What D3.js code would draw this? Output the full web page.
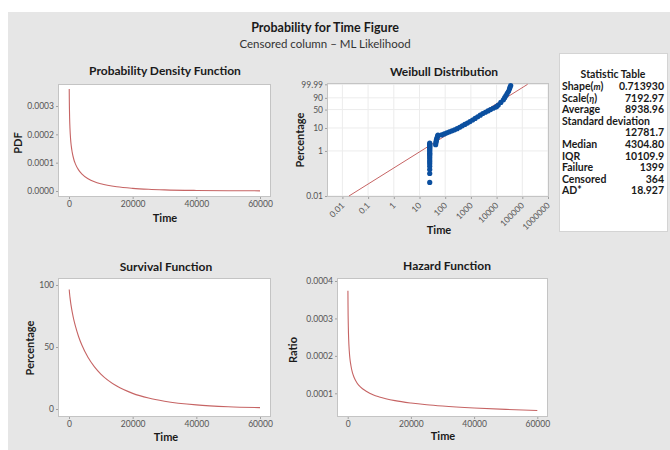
<!DOCTYPE html>
<html>
<head>
<meta charset="utf-8">
<script src="https://cdn.jsdelivr.net/npm/d3@7"></script>
<style>
  body { margin: 0; background: #ffffff; }
  svg text { font-family: "Lato", "Open Sans", sans-serif; }
</style>
</head>
<body>
<div id="chart"></div>
<script>
var svgWidth = 670;
var svgHeight = 450;

var curveTimes = [70, 100, 200, 300, 500, 700, 1000, 1500, 2000, 3000, 4000, 6000,
  8000, 10000, 15000, 20000, 25000, 30000, 40000, 50000, 60000];
var pdfValues = [0.000360, 0.000322, 0.000256, 0.000222, 0.000183, 0.000160, 0.000137,
  0.000112, 0.0000959, 0.0000746, 0.0000608, 0.0000434, 0.0000327, 0.0000255,
  0.0000148, 0.0000093, 0.0000061, 0.0000041, 0.0000020, 0.0000010, 0.0000006];
var survivalPct = [96.4, 95.4, 92.5, 90.2, 86.2, 82.7, 78.3, 72.1, 67.0, 58.5, 51.8,
  41.5, 34.0, 28.2, 18.5, 12.6, 8.8, 6.3, 3.3, 1.8, 1.1];
var hazardValues = [0.000374, 0.000337, 0.000277, 0.000246, 0.000213, 0.000193,
  0.000175, 0.000155, 0.000143, 0.000127, 0.000117, 0.000105, 0.0000963, 0.0000903,
  0.0000804, 0.0000741, 0.0000695, 0.0000660, 0.0000608, 0.0000570, 0.0000541];

// Weibull probability plot points (time, cumulative percentage)
var weibullTimes = [25, 25, 25, 25, 25, 25, 25, 25, 25, 25, 25, 25, 25, 25, 25, 25, 25,
  25, 25, 25,
  42.5, 43.5, 44.5, 45.8, 47.4, 49.0, 50.7, 52.3,
  73.1, 92.0, 115.9, 145.9, 183.7, 231.2, 291.1, 366.4, 461.3, 580.8, 731.1, 920.4,
  1159, 1459, 1837, 2312, 2911, 3664, 4613, 5808, 7311, 9204, 10093, 11588, 14588,
  18365, 20606, 23121, 25942, 29107, 31915, 33420, 35400];
var weibullPct = [0.04, 0.1, 0.15, 0.21, 0.27, 0.33, 0.4, 0.5, 0.6, 0.7, 0.8, 0.95, 1.1,
  1.25, 1.4, 1.55, 1.7, 1.85, 2.0, 2.2,
  1.9, 2.3, 2.7, 3.1, 3.5, 4.0, 4.5, 4.9,
  5.05, 5.59, 6.19, 6.86, 7.59, 8.40, 9.34, 10.72, 12.29, 14.06, 16.05, 18.31,
  21.21, 24.53, 28.27, 32.47, 37.09, 40.98, 45.31, 49.88, 54.82, 59.25, 61.01, 66.88,
  76.39, 84.82, 90.36, 94.58, 97.31, 98.87, 99.70, 99.905, 99.969];
var fitTimes = [0.018, 161000];
var fitPct = [0.01, 99.99];

var timeTicks = [0, 20000, 40000, 60000];
var pdfTicks = [0, 0.0001, 0.0002, 0.0003];
var survivalTicks = [0, 50, 100];
var hazardTicks = [0.0001, 0.0002, 0.0003, 0.0004];
var weibullPctTicks = [0.01, 1, 10, 50, 90, 99.99];
var weibullTimeTicks = [0.01, 0.1, 1, 10, 100, 1000, 10000, 100000, 1000000];

var statLabels = ["Shape(m)", "Scale(η)", "Average", "Standard deviation", "",
  "Median", "IQR", "Failure", "Censored", "AD*"];
var statValues = ["0.713930", "7192.97", "8938.96", "", "12781.7",
  "4304.80", "10109.9", "1399", "364", "18.927"];

var curveColor = "#c66464";
var dotColor = "#0b4f9f";

var svg = d3.select("#chart")
  .append("svg")
  .attr("width", svgWidth)
  .attr("height", svgHeight);

svg.append("rect")
  .attr("x", 8).attr("y", 12)
  .attr("width", svgWidth - 8).attr("height", svgHeight - 12)
  .attr("fill", "#e6e6e6");

svg.append("text")
  .attr("x", 325).attr("y", 32)
  .attr("text-anchor", "middle")
  .attr("font-size", 12.5).attr("font-weight", "bold").attr("fill", "#1a1a1a")
  .text("Probability for Time Figure");

svg.append("text")
  .attr("x", 325).attr("y", 48)
  .attr("text-anchor", "middle")
  .attr("font-size", 11.5).attr("fill", "#333")
  .text("Censored column – ML Likelihood");

// draws the frame, axes and labels of one panel, returns its group
function drawPanel(p) {
  var g = svg.append("g");

  g.append("rect")
    .attr("x", p.box[0]).attr("y", p.box[1])
    .attr("width", p.box[2] - p.box[0]).attr("height", p.box[3] - p.box[1])
    .attr("fill", "#fff");
  if (p.grid) p.grid(g);

  var xAxis = g.append("g")
    .attr("transform", `translate(0, ${p.box[3]})`)
    .call(d3.axisBottom(p.x).tickValues(p.xTicks).tickSize(2).tickPadding(2)
      .tickFormat(p.xFormat || d3.format("d")));

  var yAxis = g.append("g")
    .attr("transform", `translate(${p.box[0]}, 0)`)
    .call(d3.axisLeft(p.y).tickValues(p.yTicks).tickSize(2).tickPadding(2)
      .tickFormat(p.yFormat));

  [xAxis, yAxis].forEach(function(a) {
    a.select(".domain").remove();
    a.selectAll("line").attr("stroke", "#a0a0a0");
    a.selectAll("text").attr("font-size", 8.5).attr("fill", "#555");
  });

  if (p.rotateX) {
    xAxis.selectAll("text")
      .attr("text-anchor", "end")
      .attr("dy", null)
      .attr("y", 0)
      .attr("transform", "translate(2, 9) rotate(-45)");
  }

  g.append("rect")
    .attr("x", p.box[0] + 0.5).attr("y", p.box[1] + 0.5)
    .attr("width", p.box[2] - p.box[0] - 1).attr("height", p.box[3] - p.box[1] - 1)
    .attr("fill", "none").attr("stroke", "#c4c4c4");

  g.append("text")
    .attr("x", p.title[1]).attr("y", p.title[2])
    .attr("text-anchor", "middle")
    .attr("font-size", 12).attr("font-weight", "bold").attr("fill", "#1a1a1a")
    .text(p.title[0]);

  g.append("text")
    .attr("x", p.xLabel[0]).attr("y", p.xLabel[1])
    .attr("text-anchor", "middle")
    .attr("font-size", 11).attr("font-weight", "bold").attr("fill", "#1a1a1a")
    .text("Time");

  g.append("text")
    .attr("transform", `translate(${p.yLabel[1]}, ${p.yLabel[2]}) rotate(-90)`)
    .attr("text-anchor", "middle")
    .attr("font-size", 11).attr("font-weight", "bold").attr("fill", "#1a1a1a")
    .text(p.yLabel[0]);

  return g;
}

function drawCurve(g, x, y, values) {
  var line = d3.line()
    .x((d, i) => x(curveTimes[i]))
    .y(d => y(d))
    .curve(d3.curveMonotoneX);
  g.append("path")
    .datum(values)
    .attr("d", line)
    .attr("fill", "none")
    .attr("stroke", curveColor)
    .attr("stroke-width", 1.1);
}

// ---- Probability Density Function
var pdfX = d3.scaleLinear().domain([0, 60000]).range([69, 260]);
var pdfY = d3.scaleLinear().domain([0, 0.0003]).range([191, 106]);
var pdfGroup = drawPanel({
  box: [58, 84, 271, 197], x: pdfX, y: pdfY,
  xTicks: timeTicks, yTicks: pdfTicks, yFormat: d3.format(".4f"),
  title: ["Probability Density Function", 165, 75],
  xLabel: [165, 222], yLabel: ["PDF", 22, 143]
});
drawCurve(pdfGroup, pdfX, pdfY, pdfValues);

// ---- Weibull Distribution (probability plot)
function weibullTransform(pct) {
  return Math.log(-Math.log(1 - pct / 100));
}
var wbX = d3.scaleLog().domain([0.01, 1000000]).range([342.4, 548]);
var wbYLinear = d3.scaleLinear()
  .domain([weibullTransform(0.01), weibullTransform(99.99)])
  .range([196, 84.3]);
var wbY = function(pct) { return wbYLinear(weibullTransform(pct)); };
wbY.copy = function() { return wbY; };
wbY.range = function() { return [196, 84.3]; };
wbY.domain = function() { return [0.01, 99.99]; };

var wbGroup = drawPanel({
  box: [327, 83, 549, 197], x: wbX, y: wbY,
  xTicks: weibullTimeTicks, yTicks: weibullPctTicks,
  xFormat: d => String(d), yFormat: d => String(d), rotateX: true,
  title: ["Weibull Distribution", 444, 76],
  xLabel: [439, 234], yLabel: ["Percentage", 304, 140],
  grid: function(g) {
    g.selectAll(".vgrid")
      .data(weibullTimeTicks)
      .enter().append("line")
      .attr("x1", d => wbX(d)).attr("x2", d => wbX(d))
      .attr("y1", 83).attr("y2", 197)
      .attr("stroke", "#ececec");
    g.selectAll(".hgrid")
      .data(weibullPctTicks)
      .enter().append("line")
      .attr("x1", 327).attr("x2", 549)
      .attr("y1", d => wbY(d)).attr("y2", d => wbY(d))
      .attr("stroke", "#ececec");
  }
});

wbGroup.append("line")
  .attr("x1", wbX(fitTimes[0])).attr("y1", wbY(fitPct[0]))
  .attr("x2", wbX(fitTimes[1])).attr("y2", wbY(fitPct[1]))
  .attr("stroke", curveColor).attr("stroke-width", 1);

wbGroup.selectAll(".dot")
  .data(weibullTimes)
  .enter().append("circle")
  .attr("cx", d => wbX(d))
  .attr("cy", (d, i) => wbY(weibullPct[i]))
  .attr("r", 2.6)
  .attr("fill", dotColor);

// ---- Survival Function
var survX = d3.scaleLinear().domain([0, 60000]).range([69, 260]);
var survY = d3.scaleLinear().domain([0, 100]).range([409, 285]);
var survGroup = drawPanel({
  box: [58, 278, 271, 417], x: survX, y: survY,
  xTicks: timeTicks, yTicks: survivalTicks, yFormat: d3.format("d"),
  title: ["Survival Function", 166, 271],
  xLabel: [166, 441], yLabel: ["Percentage", 34, 348]
});
drawCurve(survGroup, survX, survY, survivalPct);

// ---- Hazard Function
var hazX = d3.scaleLinear().domain([0, 60000]).range([347.7, 537.3]);
var hazY = d3.scaleLinear().domain([0.0001, 0.0004]).range([393.3, 281]);
var hazGroup = drawPanel({
  box: [337, 278, 548, 417], x: hazX, y: hazY,
  xTicks: timeTicks, yTicks: hazardTicks, yFormat: d3.format(".4f"),
  title: ["Hazard Function", 447, 270],
  xLabel: [443, 440], yLabel: ["Ratio", 297, 350]
});
drawCurve(hazGroup, hazX, hazY, hazardValues);

// ---- Statistic Table
var table = svg.append("g");
table.append("rect")
  .attr("x", 559.5).attr("y", 53.5)
  .attr("width", 108).attr("height", 178)
  .attr("fill", "#fff").attr("stroke", "#d4d4d4");

table.append("text")
  .attr("x", 613).attr("y", 78)
  .attr("text-anchor", "middle")
  .attr("font-size", 10.5).attr("font-weight", "bold").attr("fill", "#1a1a1a")
  .text("Statistic Table");

statLabels.forEach(function(label, i) {
  var y = 90 + i * 11.6;
  var t = table.append("text")
    .attr("x", 562).attr("y", y)
    .attr("font-size", 10.5).attr("font-weight", "bold").attr("fill", "#1a1a1a");
  var m = label.match(/^(\w+\()(.)(\))$/);
  if (m) {
    t.append("tspan").text(m[1]);
    t.append("tspan").attr("font-style", "italic").attr("font-size", 9).text(m[2]);
    t.append("tspan").text(m[3]);
  } else {
    t.text(label);
  }
  table.append("text")
    .attr("x", 664).attr("y", y)
    .attr("text-anchor", "end")
    .attr("font-size", 10.5).attr("font-weight", "bold").attr("fill", "#1a1a1a")
    .text(statValues[i]);
});
</script>
</body>
</html>
